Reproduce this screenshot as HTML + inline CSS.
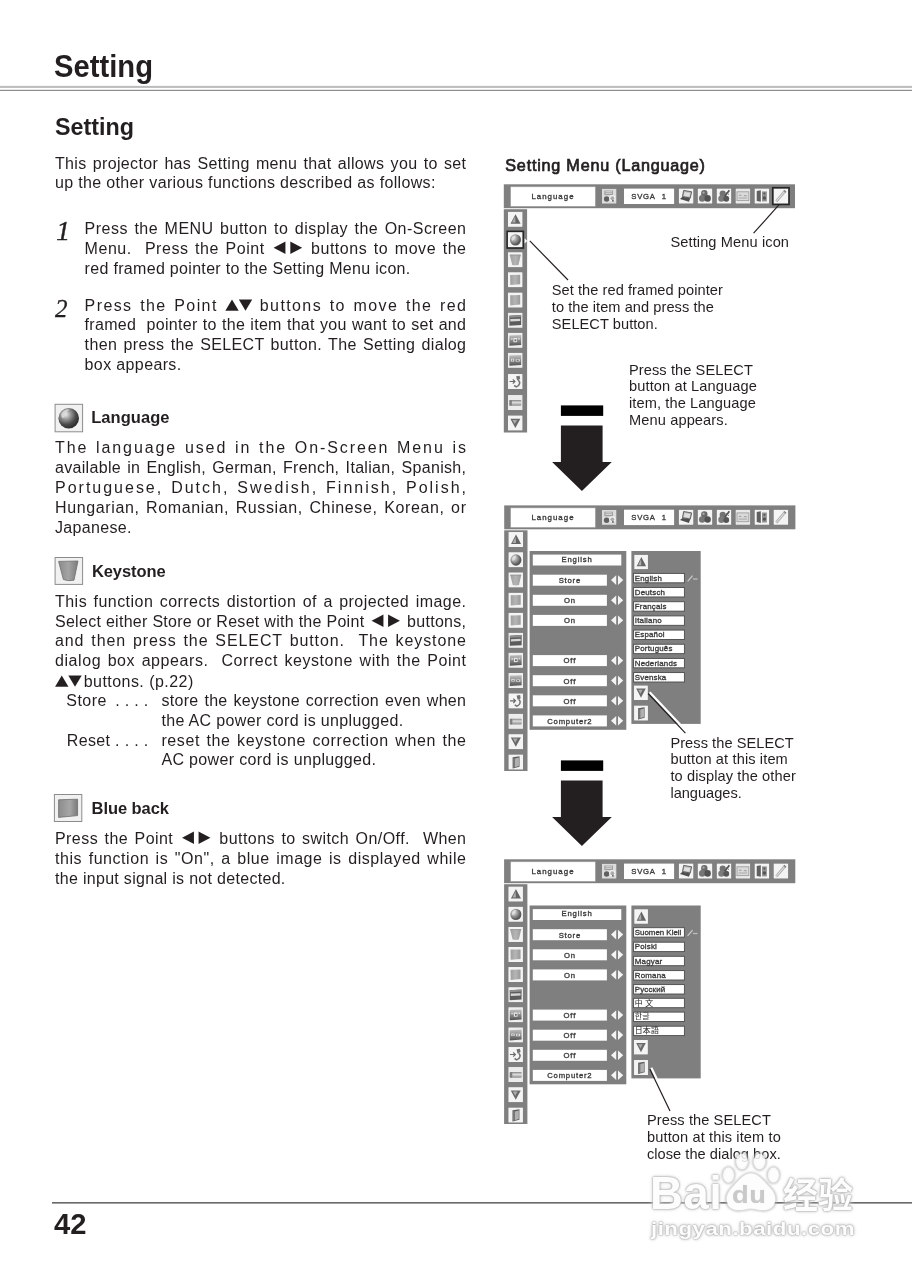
<!DOCTYPE html>
<html lang="en"><head><meta charset="utf-8"><title>Setting</title>
<style>
html,body{margin:0;padding:0;background:#fff}
body{width:912px;height:1280px;position:relative;overflow:hidden;color:#231f20;font-family:"Liberation Sans",sans-serif}
.abs{position:absolute}
#page{position:absolute;left:0;top:0;width:912px;height:1280px;overflow:hidden;will-change:transform}

.s2{display:inline-block;width:2px}
.t{position:absolute;white-space:pre;margin:0;padding:0}
.j{text-align:justify;text-align-last:justify}
.tr,.tu{display:inline-block;font-family:"DejaVu Sans",sans-serif;line-height:16px;letter-spacing:0;font-weight:400;font-style:normal}
.tr{font-size:15.6px;margin:0 2.3px;transform:translateY(-2.2px) scale(1,1.05)}
.tu{font-size:17.6px;margin:0 -0.1px;transform:translateY(-0.9px) scale(1,0.83)}

</style></head><body>
<div id="page">

<svg class="abs" style="left:0;top:0" width="912" height="1280" viewBox="0 0 912 1280"><rect x="0" y="85.9" width="912" height="2" fill="#bcbcbc"/><rect x="0" y="89.8" width="912" height="1.2" fill="#8c8c8c"/><rect x="52" y="1202.2" width="860" height="1.3" fill="#454545"/></svg>
<div class="t" style="left:53.6px;top:47px;line-height:39px;height:39px;font-family:'Liberation Sans',sans-serif;font-size:30.8px;font-weight:700;transform:scaleX(0.9485);transform-origin:0 50%;">Setting</div>
<div class="t" style="left:55.3px;top:111px;line-height:31px;height:31px;font-family:'Liberation Sans',sans-serif;font-size:23.8px;font-weight:700;transform:scaleX(0.9797);transform-origin:0 50%;">Setting</div>
<div class="t j" style="left:55px;top:153px;line-height:21px;height:21px;font-family:'Liberation Sans',sans-serif;font-size:16px;letter-spacing:0.335px;width:411.33px;">This projector has Setting menu that allows you to set</div>
<div class="t" style="left:55px;top:172px;line-height:21px;height:21px;font-family:'Liberation Sans',sans-serif;font-size:16px;letter-spacing:0.344px;">up the other various functions described as follows:</div>
<div class="t" style="left:56.3px;top:213px;line-height:35px;height:35px;font-family:'Liberation Serif',serif;font-size:27.5px;font-style:italic;-webkit-text-stroke:0.4px #231f20;">1</div>
<div class="t j" style="left:84.6px;top:218px;line-height:21px;height:21px;font-family:'Liberation Sans',sans-serif;font-size:16px;letter-spacing:0.495px;width:381.89px;">Press the MENU button to display the On-Screen</div>
<div class="t j" style="left:84.6px;top:238px;line-height:21px;height:21px;font-family:'Liberation Sans',sans-serif;font-size:16px;letter-spacing:0.532px;width:381.93px;">Menu.  Press the Point <span class="tr">◀</span><span class="tr">▶</span> buttons to move the</div>
<div class="t" style="left:84.6px;top:258px;line-height:21px;height:21px;font-family:'Liberation Sans',sans-serif;font-size:16px;letter-spacing:0.314px;">red framed pointer to the Setting Menu icon.</div>
<div class="t" style="left:55px;top:293px;line-height:31px;height:31px;font-family:'Liberation Serif',serif;font-size:25px;font-style:italic;-webkit-text-stroke:0.3px #231f20;">2</div>
<div class="t j" style="left:84.6px;top:295px;line-height:21px;height:21px;font-family:'Liberation Sans',sans-serif;font-size:16px;letter-spacing:1.395px;width:382.79px;">Press the Point <span class="tu">▲</span><span class="tu">▼</span> buttons to move the red</div>
<div class="t j" style="left:84.6px;top:314px;line-height:21px;height:21px;font-family:'Liberation Sans',sans-serif;font-size:16px;letter-spacing:0.3px;width:381.7px;">framed  pointer to the item that you want to set and</div>
<div class="t j" style="left:84.6px;top:334px;line-height:21px;height:21px;font-family:'Liberation Sans',sans-serif;font-size:16px;letter-spacing:0.353px;width:381.75px;">then press the SELECT button. The Setting dialog</div>
<div class="t" style="left:84.6px;top:354px;line-height:21px;height:21px;font-family:'Liberation Sans',sans-serif;font-size:16px;letter-spacing:0.371px;">box appears.</div>
<div class="t" style="left:91.2px;top:406px;line-height:22px;height:22px;font-family:'Liberation Sans',sans-serif;font-size:16.5px;font-weight:700;letter-spacing:0.052px;">Language</div>
<div class="t j" style="left:55px;top:437px;line-height:21px;height:21px;font-family:'Liberation Sans',sans-serif;font-size:16px;letter-spacing:1.893px;width:412.89px;">The language used in the On-Screen Menu is</div>
<div class="t j" style="left:55px;top:457px;line-height:21px;height:21px;font-family:'Liberation Sans',sans-serif;font-size:16px;letter-spacing:0.313px;width:411.31px;">available in English, German, French, Italian, Spanish,</div>
<div class="t j" style="left:55px;top:477px;line-height:21px;height:21px;font-family:'Liberation Sans',sans-serif;font-size:16px;letter-spacing:1.993px;width:412.99px;">Portuguese, Dutch, Swedish, Finnish, Polish,</div>
<div class="t j" style="left:55px;top:497px;line-height:21px;height:21px;font-family:'Liberation Sans',sans-serif;font-size:16px;letter-spacing:0.624px;width:411.62px;">Hungarian, Romanian, Russian, Chinese, Korean, or</div>
<div class="t" style="left:55px;top:517px;line-height:21px;height:21px;font-family:'Liberation Sans',sans-serif;font-size:16px;letter-spacing:0.32px;">Japanese.</div>
<div class="t" style="left:91.9px;top:560px;line-height:22px;height:22px;font-family:'Liberation Sans',sans-serif;font-size:16.5px;font-weight:700;letter-spacing:-0.083px;">Keystone</div>
<div class="t j" style="left:55px;top:591px;line-height:21px;height:21px;font-family:'Liberation Sans',sans-serif;font-size:16px;letter-spacing:0.467px;width:411.47px;">This function corrects distortion of a projected image.</div>
<div class="t j" style="left:55px;top:611px;line-height:21px;height:21px;font-family:'Liberation Sans',sans-serif;font-size:16px;letter-spacing:0.277px;width:411.28px;">Select either Store or Reset with the Point <span class="tr">◀</span><span class="tr">▶</span> buttons,</div>
<div class="t j" style="left:55px;top:630px;line-height:21px;height:21px;font-family:'Liberation Sans',sans-serif;font-size:16px;letter-spacing:0.914px;width:411.91px;">and then press the SELECT button.  The keystone</div>
<div class="t j" style="left:55px;top:650px;line-height:21px;height:21px;font-family:'Liberation Sans',sans-serif;font-size:16px;letter-spacing:0.569px;width:411.57px;">dialog box appears.  Correct keystone with the Point</div>
<div class="t" style="left:55px;top:671px;line-height:21px;height:21px;font-family:'Liberation Sans',sans-serif;font-size:16px;letter-spacing:0.455px;"><span class="tu">▲</span><span class="tu">▼</span><span class="s2"></span>buttons. (p.22)</div>
<div class="t" style="left:66.3px;top:690px;line-height:21px;height:21px;font-family:'Liberation Sans',sans-serif;font-size:16px;letter-spacing:0.47px;">Store</div>
<div class="t" style="left:115.2px;top:690px;line-height:21px;height:21px;font-family:'Liberation Sans',sans-serif;font-size:16px;letter-spacing:0.312px;">. . . .</div>
<div class="t j" style="left:161.4px;top:690px;line-height:21px;height:21px;font-family:'Liberation Sans',sans-serif;font-size:16px;letter-spacing:0.3px;width:304.9px;">store the keystone correction even when</div>
<div class="t" style="left:161.4px;top:710px;line-height:21px;height:21px;font-family:'Liberation Sans',sans-serif;font-size:16px;letter-spacing:0.348px;">the AC power cord is unplugged.</div>
<div class="t" style="left:66.8px;top:730px;line-height:21px;height:21px;font-family:'Liberation Sans',sans-serif;font-size:16px;letter-spacing:0.337px;">Reset . . . .</div>
<div class="t j" style="left:161.4px;top:730px;line-height:21px;height:21px;font-family:'Liberation Sans',sans-serif;font-size:16px;letter-spacing:0.602px;width:305.2px;">reset the keystone correction when the</div>
<div class="t" style="left:161.4px;top:749px;line-height:21px;height:21px;font-family:'Liberation Sans',sans-serif;font-size:16px;letter-spacing:0.352px;">AC power cord is unplugged.</div>
<div class="t" style="left:91.6px;top:797px;line-height:22px;height:22px;font-family:'Liberation Sans',sans-serif;font-size:16.5px;font-weight:700;letter-spacing:-0.069px;">Blue back</div>
<div class="t j" style="left:55px;top:828px;line-height:21px;height:21px;font-family:'Liberation Sans',sans-serif;font-size:16px;letter-spacing:0.435px;width:411.44px;">Press the Point <span class="tr">◀</span><span class="tr">▶</span> buttons to switch On/Off.  When</div>
<div class="t j" style="left:55px;top:848px;line-height:21px;height:21px;font-family:'Liberation Sans',sans-serif;font-size:16px;letter-spacing:0.557px;width:411.56px;">this function is "On", a blue image is displayed while</div>
<div class="t" style="left:55px;top:868px;line-height:21px;height:21px;font-family:'Liberation Sans',sans-serif;font-size:16px;letter-spacing:0.303px;">the input signal is not detected.</div>
<div class="t" style="left:53.8px;top:1205px;line-height:37px;height:37px;font-family:'Liberation Sans',sans-serif;font-size:29.8px;font-weight:700;transform:scaleX(0.9802);transform-origin:0 50%;">42</div>
<div class="t" style="left:505.3px;top:154px;line-height:22px;height:22px;font-family:'Liberation Sans',sans-serif;font-size:16.2px;letter-spacing:0.773px;-webkit-text-stroke:0.7px #231f20;">Setting Menu (Language)</div>
<div class="t" style="left:670.4px;top:232px;line-height:20px;height:20px;font-family:'Liberation Sans',sans-serif;font-size:14.6px;letter-spacing:0.111px;">Setting Menu icon</div>
<div class="t" style="left:551.8px;top:280px;line-height:20px;height:20px;font-family:'Liberation Sans',sans-serif;font-size:14.6px;letter-spacing:0.058px;">Set the red framed pointer</div>
<div class="t" style="left:551.8px;top:297px;line-height:20px;height:20px;font-family:'Liberation Sans',sans-serif;font-size:14.6px;letter-spacing:0.057px;">to the item and press the</div>
<div class="t" style="left:551.8px;top:314px;line-height:20px;height:20px;font-family:'Liberation Sans',sans-serif;font-size:14.6px;letter-spacing:0.061px;">SELECT button.</div>
<div class="t" style="left:629px;top:360px;line-height:20px;height:20px;font-family:'Liberation Sans',sans-serif;font-size:14.6px;letter-spacing:0.088px;">Press the SELECT</div>
<div class="t" style="left:629px;top:376px;line-height:20px;height:20px;font-family:'Liberation Sans',sans-serif;font-size:14.6px;letter-spacing:0.118px;">button at Language</div>
<div class="t" style="left:629px;top:393px;line-height:20px;height:20px;font-family:'Liberation Sans',sans-serif;font-size:14.6px;letter-spacing:0.109px;">item, the Language</div>
<div class="t" style="left:629px;top:410px;line-height:20px;height:20px;font-family:'Liberation Sans',sans-serif;font-size:14.6px;letter-spacing:0.12px;">Menu appears.</div>
<div class="t" style="left:670.4px;top:733px;line-height:20px;height:20px;font-family:'Liberation Sans',sans-serif;font-size:14.6px;letter-spacing:0.061px;">Press the SELECT</div>
<div class="t" style="left:670.4px;top:749px;line-height:20px;height:20px;font-family:'Liberation Sans',sans-serif;font-size:14.6px;letter-spacing:0.122px;">button at this item</div>
<div class="t" style="left:670.4px;top:766px;line-height:20px;height:20px;font-family:'Liberation Sans',sans-serif;font-size:14.6px;letter-spacing:0.109px;">to display the other</div>
<div class="t" style="left:670.4px;top:783px;line-height:20px;height:20px;font-family:'Liberation Sans',sans-serif;font-size:14.6px;letter-spacing:-0.002px;">languages.</div>
<div class="t" style="left:647px;top:1110px;line-height:20px;height:20px;font-family:'Liberation Sans',sans-serif;font-size:14.6px;letter-spacing:0.088px;">Press the SELECT</div>
<div class="t" style="left:647px;top:1127px;line-height:20px;height:20px;font-family:'Liberation Sans',sans-serif;font-size:14.6px;letter-spacing:0.113px;">button at this item to</div>
<div class="t" style="left:647px;top:1144px;line-height:20px;height:20px;font-family:'Liberation Sans',sans-serif;font-size:14.6px;letter-spacing:0.037px;">close the dialog box.</div>
<style>
.b{position:absolute;overflow:visible}
.mt{position:absolute;white-space:nowrap;font-family:"Liberation Sans",sans-serif;box-sizing:border-box;overflow:visible;text-align:center;font-weight:400;color:#3a3a3a;-webkit-text-stroke:0.33px #3a3a3a}
</style>
<svg class="b" style="left:0;top:0" width="912" height="1280" viewBox="0 0 912 1280">
<defs>
<linearGradient id="gv" x1="0" y1="0" x2="0" y2="1"><stop offset="0" stop-color="#b4b4b4"/><stop offset="0.45" stop-color="#7a7a7a"/><stop offset="1" stop-color="#2c2c2c"/></linearGradient>
<linearGradient id="gh" x1="0" y1="0" x2="1" y2="0"><stop offset="0" stop-color="#8b8b8b"/><stop offset="0.5" stop-color="#a6a6a6"/><stop offset="1" stop-color="#858585"/></linearGradient>
<linearGradient id="gc" x1="0" y1="0" x2="0" y2="1"><stop offset="0" stop-color="#6c6c6c"/><stop offset="0.4" stop-color="#d8d8d8"/><stop offset="1" stop-color="#777"/></linearGradient>
<radialGradient id="gs" cx="0.34" cy="0.34" r="0.8"><stop offset="0" stop-color="#d9d9d9"/><stop offset="0.35" stop-color="#8f8f8f"/><stop offset="0.7" stop-color="#3d3d3d"/><stop offset="1" stop-color="#262626"/></radialGradient>
</defs>
<rect x="503.8" y="184.3" width="291.2" height="23.9" fill="#7f7f7f"/>
<rect x="510.7" y="186.8" width="84.6" height="19.5" fill="#fff" stroke="#a6a6a6" stroke-width="0.6"/>
<svg x="602" y="188.8" width="14.4" height="14.8" viewBox="0 0 15 15" preserveAspectRatio="none"><rect width="15" height="15" fill="#f6f6f6"/><g opacity="0.82"><rect width="15" height="15" fill="#d6d6d6"/><path d="M2.400 1.800H11.400V6.400H2.400Z" fill="#8a8a8a"/><path d="M3.600 3H10.400M3.600 4.600H10.400" stroke="#e6e6e6" stroke-width="0.8"/><circle cx="4.800" cy="10.400" r="2.800" fill="#3f3f3f"/><circle cx="10.800" cy="9.600" r="3.200" fill="#f0f0f0"/><circle cx="10.800" cy="9.600" r="2" fill="#9a9a9a"/><circle cx="11.400" cy="12.200" r="0.900" fill="#222"/></g></svg>
<rect x="624" y="188.6" width="50.1" height="15.4" fill="#fff"/>
<svg x="678.8" y="188.6" width="14.6" height="15" viewBox="0 0 15 15" preserveAspectRatio="none"><rect width="15" height="15" fill="#f6f6f6"/><g opacity="0.82"><rect width="15" height="15" fill="#f3f3f3"/><path d="M5 1.800L13.200 3.200L11.800 9.400L3.800 8Z" fill="#a5a5a5" stroke="#333" stroke-width="0.9"/><path d="M6 3.400L11.800 4.400L10.800 8.200L5 7.200Z" fill="#d9d9d9"/><path d="M1.200 10.400L3.800 8.200L11.800 9.600L10.400 13.200Z" fill="#2b2b2b"/></g></svg>
<svg x="697.7" y="188.6" width="14.6" height="15" viewBox="0 0 15 15" preserveAspectRatio="none"><rect width="15" height="15" fill="#f6f6f6"/><g opacity="0.82"><rect width="15" height="15" fill="#f3f3f3"/><circle cx="6.800" cy="4.800" r="3.300" fill="#4a4a4a"/><circle cx="4.600" cy="9.800" r="3.300" fill="#5a5a5a"/><circle cx="10.200" cy="9.800" r="3.300" fill="#2e2e2e"/><circle cx="6" cy="4" r="1.200" fill="#999"/></g></svg>
<svg x="716.7" y="188.6" width="14.6" height="15" viewBox="0 0 15 15" preserveAspectRatio="none"><rect width="15" height="15" fill="#f6f6f6"/><g opacity="0.82"><rect width="15" height="15" fill="#f3f3f3"/><circle cx="6.200" cy="5.200" r="3.200" fill="#555"/><circle cx="4.800" cy="10" r="3.200" fill="#5f5f5f"/><circle cx="9.800" cy="10.200" r="3" fill="#333"/><path d="M8.400 7.600L13 1.600" stroke="#2a2a2a" stroke-width="1.700"/><path d="M9.600 3.600L12.600 6" stroke="#555" stroke-width="1"/></g></svg>
<svg x="735.6" y="188.6" width="14.6" height="15" viewBox="0 0 15 15" preserveAspectRatio="none"><rect width="15" height="15" fill="#f6f6f6"/><g opacity="0.82"><rect width="15" height="15" fill="#e6e6e6"/><rect x="1.400" y="3.200" width="12.200" height="8.800" fill="#d4d4d4" stroke="#8a8a8a" stroke-width="0.9"/><path d="M3 7.200C4 5.600 5.400 5.600 6.400 7.200ZM8 7.600C9 6 11 6 12 7.600Z" fill="#8e8e8e"/><path d="M3 9.400H12" stroke="#a0a0a0" stroke-width="1.200"/></g></svg>
<svg x="754.6" y="188.6" width="14.6" height="15" viewBox="0 0 15 15" preserveAspectRatio="none"><rect width="15" height="15" fill="#f6f6f6"/><g opacity="0.82"><rect width="15" height="15" fill="#f3f3f3"/><path d="M2.200 2.400L6.400 1.600V13.200L2.200 12.400Z" fill="#3f3f3f"/><path d="M7.600 2.800H12.600V12.800H7.600Z" fill="#7b7b7b"/><circle cx="10.100" cy="9.400" r="1.700" fill="#2e2e2e"/><circle cx="10.100" cy="5" r="1" fill="#2e2e2e"/></g></svg>
<svg x="773.6" y="188.6" width="14.6" height="15" viewBox="0 0 15 15" preserveAspectRatio="none"><rect width="15" height="15" fill="#f6f6f6"/><g opacity="0.82"><rect width="15" height="15" fill="#f3f3f3"/><path d="M2.800 12.800L11.800 2.400" stroke="#a3a3a3" stroke-width="2.800"/><path d="M3 12.400L11.400 2.800" stroke="#e3e3e3" stroke-width="1"/><path d="M10.600 1.800L12.800 3.600" stroke="#6a6a6a" stroke-width="1.400"/></g></svg>
<rect x="772.7" y="187.7" width="16.4" height="16.8" fill="none" stroke="#262626" stroke-width="1.5"/>
<rect x="503.8" y="209.2" width="23.3" height="223.3" fill="#7f7f7f"/>
<svg x="508" y="211.8" width="14.5" height="15" viewBox="0 0 15 15" preserveAspectRatio="none"><rect width="15" height="15" fill="#f6f6f6"/><g opacity="0.82"><rect width="15" height="15" fill="#f3f3f3"/><path d="M7.8 2.4L13 12H2.6Z" fill="#444"/><path d="M7.4 4.6L7.8 10.8H4.2Z" fill="#9a9a9a"/></g></svg>
<svg x="508" y="232.2" width="14.5" height="15" viewBox="0 0 15 15" preserveAspectRatio="none"><rect width="15" height="15" fill="#f6f6f6"/><g opacity="0.82"><rect width="15" height="15" fill="#f3f3f3"/><circle cx="7.7" cy="7.7" r="5.7" fill="url(#gs)"/><path d="M4 5.600C5 3.600 7 3 8.400 3.400C7.400 4.400 7.800 5.600 6.600 6.400C6 7.600 5.200 8.800 4.200 8.400C3.600 7.600 3.600 6.400 4 5.600Z" fill="#e2e2e2" opacity="0.75"/></g></svg>
<rect x="507.1" y="231.3" width="16.3" height="16.8" fill="none" stroke="#262626" stroke-width="1.5"/>
<path d="M527.2 240.9l-2.6 -2.6v5.2z" fill="#fff"/>
<svg x="508" y="252.3" width="14.5" height="15" viewBox="0 0 15 15" preserveAspectRatio="none"><rect width="15" height="15" fill="#f6f6f6"/><g opacity="0.82"><rect width="15" height="15" fill="#f3f3f3"/><path d="M1.8 2.6H13.2L10.8 12.6Q7.5 13.4 4.4 12.600Z" fill="url(#gh)"/><path d="M1.8 2.6H13.2" stroke="#6f6f6f" stroke-width="0.7"/></g></svg>
<svg x="508" y="272.3" width="14.5" height="15" viewBox="0 0 15 15" preserveAspectRatio="none"><rect width="15" height="15" fill="#f6f6f6"/><g opacity="0.82"><rect width="15" height="15" fill="#f3f3f3"/><path d="M2.2 2.6L12.6 2.400V12L2.400 12.800Z" fill="url(#gh)"/></g></svg>
<svg x="508" y="292.6" width="14.5" height="15" viewBox="0 0 15 15" preserveAspectRatio="none"><rect width="15" height="15" fill="#f6f6f6"/><g opacity="0.82"><rect width="15" height="15" fill="#f3f3f3"/><path d="M2.2 2.6L12.6 2.400V12L2.400 12.800Z" fill="url(#gh)"/></g></svg>
<svg x="508" y="312.7" width="14.5" height="15" viewBox="0 0 15 15" preserveAspectRatio="none"><rect width="15" height="15" fill="#f6f6f6"/><g opacity="0.82"><rect width="15" height="15" fill="#ededed"/><path d="M1.4 3L13.6 2.200V12.400L1.400 13Z" fill="#3a3a3a"/><path d="M2.4 6.400L12.600 6V8.200L2.400 8.800Z" fill="#cfcfcf"/><path d="M1.4 3L13.6 2.200V4.400L1.400 5Z" fill="#777"/></g></svg>
<svg x="508" y="332.8" width="14.5" height="15" viewBox="0 0 15 15" preserveAspectRatio="none"><rect width="15" height="15" fill="#f6f6f6"/><g opacity="0.82"><rect width="15" height="15" fill="#ededed"/><path d="M1.4 2.8L13.6 2.200V12.200L1.400 13Z" fill="url(#gv)"/><path d="M5.600 5.200H9.400V9.400H5.600Z" fill="#f0f0f0" opacity="0.9"/><path d="M6.800 6.600H8.600V8.400H6.800Z" fill="#444"/><path d="M3 5.400H4.800V7H3ZM10.400 5H12.200V6.600H10.400Z" fill="#e0e0e0" opacity="0.8"/></g></svg>
<svg x="508" y="352.8" width="14.5" height="15" viewBox="0 0 15 15" preserveAspectRatio="none"><rect width="15" height="15" fill="#f6f6f6"/><g opacity="0.82"><rect width="15" height="15" fill="#ededed"/><path d="M1.4 2.8L13.6 2.200V12.200L1.400 13Z" fill="url(#gv)"/><path d="M3 6H6.400V8.600H3ZM8 6.400H12.200V8.800H8Z" fill="#ebebeb" opacity="0.9"/><path d="M4 6.800H5.400V8H4ZM9 7H11V8.200H9Z" fill="#555"/></g></svg>
<svg x="508" y="374.1" width="14.5" height="15" viewBox="0 0 15 15" preserveAspectRatio="none"><rect width="15" height="15" fill="#f6f6f6"/><g opacity="0.82"><rect width="15" height="15" fill="#f3f3f3"/><path d="M1.6 7.400H6.800M5 5.200L7.200 7.400L5 9.600" stroke="#4a4a4a" stroke-width="1.2" fill="none"/><path d="M8.400 2.200L12 1.600L12.600 5L9.400 6.400Z" fill="#555"/><path d="M10.600 6C13 8 12.400 11.600 8.600 12.800L6.400 11.400" stroke="#555" stroke-width="1.5" fill="none"/></g></svg>
<svg x="508" y="395.1" width="14.5" height="15" viewBox="0 0 15 15" preserveAspectRatio="none"><rect width="15" height="15" fill="#f6f6f6"/><g opacity="0.82"><rect width="15" height="15" fill="#e9e9e9"/><rect x="1.4" y="5" width="12.4" height="5.600" rx="1" fill="url(#gc)"/><rect x="1.4" y="5" width="2.600" height="5.600" rx="1" fill="#666"/></g></svg>
<svg x="508" y="415.5" width="14.5" height="15" viewBox="0 0 15 15" preserveAspectRatio="none"><rect width="15" height="15" fill="#f6f6f6"/><g opacity="0.82"><rect width="15" height="15" fill="#f3f3f3"/><path d="M7.6 12.6L12.8 3.2H2.4Z" fill="#4a4a4a"/><path d="M4.6 4.4H9.4L7 8.6Z" fill="#9a9a9a"/></g></svg>
<rect x="560.9" y="405.4" width="42.3" height="10.5" fill="#000"/>
<path d="M560.9 425.6h41.7v36.3h9.2l-29.9 29.2l-29.8 -29.2h8.8z" fill="#231f20"/>
<rect x="504.2" y="505.4" width="291.2" height="23.9" fill="#7f7f7f"/>
<rect x="510.7" y="507.9" width="84.6" height="19.5" fill="#fff" stroke="#a6a6a6" stroke-width="0.6"/>
<svg x="602" y="509.9" width="14.4" height="14.8" viewBox="0 0 15 15" preserveAspectRatio="none"><rect width="15" height="15" fill="#f6f6f6"/><g opacity="0.82"><rect width="15" height="15" fill="#d6d6d6"/><path d="M2.400 1.800H11.400V6.400H2.400Z" fill="#8a8a8a"/><path d="M3.600 3H10.400M3.600 4.600H10.400" stroke="#e6e6e6" stroke-width="0.8"/><circle cx="4.800" cy="10.400" r="2.800" fill="#3f3f3f"/><circle cx="10.800" cy="9.600" r="3.200" fill="#f0f0f0"/><circle cx="10.800" cy="9.600" r="2" fill="#9a9a9a"/><circle cx="11.400" cy="12.200" r="0.900" fill="#222"/></g></svg>
<rect x="624" y="509.7" width="50.1" height="15.4" fill="#fff"/>
<svg x="678.8" y="509.7" width="14.6" height="15" viewBox="0 0 15 15" preserveAspectRatio="none"><rect width="15" height="15" fill="#f6f6f6"/><g opacity="0.82"><rect width="15" height="15" fill="#f3f3f3"/><path d="M5 1.800L13.200 3.200L11.800 9.400L3.800 8Z" fill="#a5a5a5" stroke="#333" stroke-width="0.9"/><path d="M6 3.400L11.800 4.400L10.800 8.200L5 7.200Z" fill="#d9d9d9"/><path d="M1.200 10.400L3.800 8.200L11.800 9.600L10.400 13.200Z" fill="#2b2b2b"/></g></svg>
<svg x="697.7" y="509.7" width="14.6" height="15" viewBox="0 0 15 15" preserveAspectRatio="none"><rect width="15" height="15" fill="#f6f6f6"/><g opacity="0.82"><rect width="15" height="15" fill="#f3f3f3"/><circle cx="6.800" cy="4.800" r="3.300" fill="#4a4a4a"/><circle cx="4.600" cy="9.800" r="3.300" fill="#5a5a5a"/><circle cx="10.200" cy="9.800" r="3.300" fill="#2e2e2e"/><circle cx="6" cy="4" r="1.200" fill="#999"/></g></svg>
<svg x="716.7" y="509.7" width="14.6" height="15" viewBox="0 0 15 15" preserveAspectRatio="none"><rect width="15" height="15" fill="#f6f6f6"/><g opacity="0.82"><rect width="15" height="15" fill="#f3f3f3"/><circle cx="6.200" cy="5.200" r="3.200" fill="#555"/><circle cx="4.800" cy="10" r="3.200" fill="#5f5f5f"/><circle cx="9.800" cy="10.200" r="3" fill="#333"/><path d="M8.400 7.600L13 1.600" stroke="#2a2a2a" stroke-width="1.700"/><path d="M9.600 3.600L12.600 6" stroke="#555" stroke-width="1"/></g></svg>
<svg x="735.6" y="509.7" width="14.6" height="15" viewBox="0 0 15 15" preserveAspectRatio="none"><rect width="15" height="15" fill="#f6f6f6"/><g opacity="0.82"><rect width="15" height="15" fill="#e6e6e6"/><rect x="1.400" y="3.200" width="12.200" height="8.800" fill="#d4d4d4" stroke="#8a8a8a" stroke-width="0.9"/><path d="M3 7.200C4 5.600 5.400 5.600 6.400 7.200ZM8 7.600C9 6 11 6 12 7.600Z" fill="#8e8e8e"/><path d="M3 9.400H12" stroke="#a0a0a0" stroke-width="1.200"/></g></svg>
<svg x="754.6" y="509.7" width="14.6" height="15" viewBox="0 0 15 15" preserveAspectRatio="none"><rect width="15" height="15" fill="#f6f6f6"/><g opacity="0.82"><rect width="15" height="15" fill="#f3f3f3"/><path d="M2.200 2.400L6.400 1.600V13.200L2.200 12.400Z" fill="#3f3f3f"/><path d="M7.600 2.800H12.600V12.800H7.600Z" fill="#7b7b7b"/><circle cx="10.100" cy="9.400" r="1.700" fill="#2e2e2e"/><circle cx="10.100" cy="5" r="1" fill="#2e2e2e"/></g></svg>
<svg x="773.6" y="509.7" width="14.6" height="15" viewBox="0 0 15 15" preserveAspectRatio="none"><rect width="15" height="15" fill="#f6f6f6"/><g opacity="0.82"><rect width="15" height="15" fill="#f3f3f3"/><path d="M2.800 12.800L11.800 2.400" stroke="#a3a3a3" stroke-width="2.800"/><path d="M3 12.400L11.400 2.800" stroke="#e3e3e3" stroke-width="1"/><path d="M10.600 1.800L12.800 3.600" stroke="#6a6a6a" stroke-width="1.400"/></g></svg>
<rect x="504.2" y="530.3" width="23.3" height="240.7" fill="#7f7f7f"/>
<svg x="508.5" y="532.1" width="14.5" height="15" viewBox="0 0 15 15" preserveAspectRatio="none"><rect width="15" height="15" fill="#f6f6f6"/><g opacity="0.82"><rect width="15" height="15" fill="#f3f3f3"/><path d="M7.8 2.4L13 12H2.6Z" fill="#444"/><path d="M7.4 4.6L7.8 10.8H4.2Z" fill="#9a9a9a"/></g></svg>
<svg x="508.5" y="552.3" width="14.5" height="15" viewBox="0 0 15 15" preserveAspectRatio="none"><rect width="15" height="15" fill="#f6f6f6"/><g opacity="0.82"><rect width="15" height="15" fill="#f3f3f3"/><circle cx="7.7" cy="7.7" r="5.7" fill="url(#gs)"/><path d="M4 5.600C5 3.600 7 3 8.400 3.400C7.400 4.400 7.800 5.600 6.600 6.400C6 7.600 5.200 8.800 4.200 8.400C3.600 7.600 3.600 6.400 4 5.600Z" fill="#e2e2e2" opacity="0.75"/></g></svg>
<svg x="508.5" y="572.4" width="14.5" height="15" viewBox="0 0 15 15" preserveAspectRatio="none"><rect width="15" height="15" fill="#f6f6f6"/><g opacity="0.82"><rect width="15" height="15" fill="#f3f3f3"/><path d="M1.8 2.6H13.2L10.8 12.6Q7.5 13.4 4.4 12.600Z" fill="url(#gh)"/><path d="M1.8 2.6H13.2" stroke="#6f6f6f" stroke-width="0.7"/></g></svg>
<svg x="508.5" y="592.7" width="14.5" height="15" viewBox="0 0 15 15" preserveAspectRatio="none"><rect width="15" height="15" fill="#f6f6f6"/><g opacity="0.82"><rect width="15" height="15" fill="#f3f3f3"/><path d="M2.2 2.6L12.6 2.400V12L2.400 12.800Z" fill="url(#gh)"/></g></svg>
<svg x="508.5" y="612.8" width="14.5" height="15" viewBox="0 0 15 15" preserveAspectRatio="none"><rect width="15" height="15" fill="#f6f6f6"/><g opacity="0.82"><rect width="15" height="15" fill="#f3f3f3"/><path d="M2.2 2.6L12.6 2.400V12L2.400 12.800Z" fill="url(#gh)"/></g></svg>
<svg x="508.5" y="632.8" width="14.5" height="15" viewBox="0 0 15 15" preserveAspectRatio="none"><rect width="15" height="15" fill="#f6f6f6"/><g opacity="0.82"><rect width="15" height="15" fill="#ededed"/><path d="M1.4 3L13.6 2.200V12.400L1.400 13Z" fill="#3a3a3a"/><path d="M2.4 6.400L12.600 6V8.200L2.400 8.800Z" fill="#cfcfcf"/><path d="M1.4 3L13.6 2.200V4.400L1.400 5Z" fill="#777"/></g></svg>
<svg x="508.5" y="652.7" width="14.5" height="15" viewBox="0 0 15 15" preserveAspectRatio="none"><rect width="15" height="15" fill="#f6f6f6"/><g opacity="0.82"><rect width="15" height="15" fill="#ededed"/><path d="M1.4 2.8L13.6 2.200V12.200L1.400 13Z" fill="url(#gv)"/><path d="M5.600 5.200H9.400V9.400H5.600Z" fill="#f0f0f0" opacity="0.9"/><path d="M6.800 6.600H8.600V8.400H6.800Z" fill="#444"/><path d="M3 5.400H4.800V7H3ZM10.400 5H12.200V6.600H10.400Z" fill="#e0e0e0" opacity="0.8"/></g></svg>
<svg x="508.5" y="673" width="14.5" height="15" viewBox="0 0 15 15" preserveAspectRatio="none"><rect width="15" height="15" fill="#f6f6f6"/><g opacity="0.82"><rect width="15" height="15" fill="#ededed"/><path d="M1.4 2.8L13.6 2.200V12.200L1.400 13Z" fill="url(#gv)"/><path d="M3 6H6.400V8.600H3ZM8 6.400H12.200V8.800H8Z" fill="#ebebeb" opacity="0.9"/><path d="M4 6.800H5.400V8H4ZM9 7H11V8.200H9Z" fill="#555"/></g></svg>
<svg x="508.5" y="693.4" width="14.5" height="15" viewBox="0 0 15 15" preserveAspectRatio="none"><rect width="15" height="15" fill="#f6f6f6"/><g opacity="0.82"><rect width="15" height="15" fill="#f3f3f3"/><path d="M1.6 7.400H6.800M5 5.200L7.200 7.400L5 9.600" stroke="#4a4a4a" stroke-width="1.2" fill="none"/><path d="M8.400 2.200L12 1.600L12.600 5L9.400 6.400Z" fill="#555"/><path d="M10.600 6C13 8 12.400 11.600 8.600 12.800L6.400 11.400" stroke="#555" stroke-width="1.5" fill="none"/></g></svg>
<svg x="508.5" y="713.8" width="14.5" height="15" viewBox="0 0 15 15" preserveAspectRatio="none"><rect width="15" height="15" fill="#f6f6f6"/><g opacity="0.82"><rect width="15" height="15" fill="#e9e9e9"/><rect x="1.4" y="5" width="12.4" height="5.600" rx="1" fill="url(#gc)"/><rect x="1.4" y="5" width="2.600" height="5.600" rx="1" fill="#666"/></g></svg>
<svg x="508.5" y="734.2" width="14.5" height="15" viewBox="0 0 15 15" preserveAspectRatio="none"><rect width="15" height="15" fill="#f6f6f6"/><g opacity="0.82"><rect width="15" height="15" fill="#f3f3f3"/><path d="M7.6 12.6L12.8 3.2H2.4Z" fill="#4a4a4a"/><path d="M4.6 4.4H9.4L7 8.6Z" fill="#9a9a9a"/></g></svg>
<svg x="508.5" y="754.6" width="14.5" height="15" viewBox="0 0 15 15" preserveAspectRatio="none"><rect width="15" height="15" fill="#f6f6f6"/><g opacity="0.82"><rect width="15" height="15" fill="#f3f3f3"/><path d="M4.4 2.6L11.4 1.6V12.2L4.4 14Z" fill="#3a3a3a"/><path d="M6.6 3.8L10.8 3V11.4L6.6 12.6Z" fill="#a0a0a0"/><path d="M4.4 2.6L6.6 3.8V12.6L4.4 14Z" fill="#5c5c5c"/></g></svg>
<rect x="529.6" y="551" width="96.7" height="178.8" fill="#7f7f7f"/>
<rect x="532.8" y="554.6" width="88.5" height="10.9" fill="#fff"/>
<rect x="532.8" y="574.7" width="74.1" height="11" fill="#fff"/>
<path d="M616.2 575.3v9.6l-5.2 -4.8zM618 575.3v9.6l5.2 -4.8z" fill="#f4f4f4"/>
<rect x="532.8" y="594.8" width="74.1" height="11" fill="#fff"/>
<path d="M616.2 595.4v9.6l-5.2 -4.8zM618 595.4v9.6l5.2 -4.8z" fill="#f4f4f4"/>
<rect x="532.8" y="614.9" width="74.1" height="11" fill="#fff"/>
<path d="M616.2 615.5v9.6l-5.2 -4.8zM618 615.5v9.6l5.2 -4.8z" fill="#f4f4f4"/>
<rect x="532.8" y="655.1" width="74.1" height="11" fill="#fff"/>
<path d="M616.2 655.7v9.6l-5.2 -4.8zM618 655.7v9.6l5.2 -4.8z" fill="#f4f4f4"/>
<rect x="532.8" y="675.2" width="74.1" height="11" fill="#fff"/>
<path d="M616.2 675.8v9.6l-5.2 -4.8zM618 675.8v9.6l5.2 -4.8z" fill="#f4f4f4"/>
<rect x="532.8" y="695.3" width="74.1" height="11" fill="#fff"/>
<path d="M616.2 695.9v9.6l-5.2 -4.8zM618 695.9v9.6l5.2 -4.8z" fill="#f4f4f4"/>
<rect x="532.8" y="715.4" width="74.1" height="11" fill="#fff"/>
<path d="M616.2 716v9.6l-5.2 -4.8zM618 716v9.6l5.2 -4.8z" fill="#f4f4f4"/>
<rect x="631.4" y="551" width="69.3" height="172.9" fill="#7f7f7f"/>
<svg x="634.3" y="554.8" width="13.6" height="14.4" viewBox="0 0 15 15" preserveAspectRatio="none"><rect width="15" height="15" fill="#f6f6f6"/><g opacity="0.82"><rect width="15" height="15" fill="#f3f3f3"/><path d="M7.8 2.4L13 12H2.6Z" fill="#444"/><path d="M7.4 4.6L7.8 10.8H4.2Z" fill="#9a9a9a"/></g></svg>
<rect x="633.6" y="573.4" width="50.8" height="9.4" fill="#fff" stroke="#4a4a4a" stroke-width="0.9"/>
<rect x="633.6" y="587.57" width="50.8" height="9.4" fill="#fff" stroke="#4a4a4a" stroke-width="0.9"/>
<rect x="633.6" y="601.74" width="50.8" height="9.4" fill="#fff" stroke="#4a4a4a" stroke-width="0.9"/>
<rect x="633.6" y="615.91" width="50.8" height="9.4" fill="#fff" stroke="#4a4a4a" stroke-width="0.9"/>
<rect x="633.6" y="630.08" width="50.8" height="9.4" fill="#fff" stroke="#4a4a4a" stroke-width="0.9"/>
<rect x="633.6" y="644.25" width="50.8" height="9.4" fill="#fff" stroke="#4a4a4a" stroke-width="0.9"/>
<rect x="633.6" y="658.42" width="50.8" height="9.4" fill="#fff" stroke="#4a4a4a" stroke-width="0.9"/>
<rect x="633.6" y="672.59" width="50.8" height="9.4" fill="#fff" stroke="#4a4a4a" stroke-width="0.9"/>
<path d="M687.6 581.4l5 -5.8" stroke="#c9c9c9" stroke-width="1.3" fill="none"/><path d="M693 579h4.6" stroke="#bdbdbd" stroke-width="1.3" fill="none"/>
<svg x="634" y="685.5" width="13.8" height="14.5" viewBox="0 0 15 15" preserveAspectRatio="none"><rect width="15" height="15" fill="#f6f6f6"/><g opacity="0.82"><rect width="15" height="15" fill="#f3f3f3"/><path d="M7.6 12.6L12.8 3.2H2.4Z" fill="#4a4a4a"/><path d="M4.6 4.4H9.4L7 8.6Z" fill="#9a9a9a"/></g></svg>
<svg x="634.1" y="705.6" width="13.8" height="15" viewBox="0 0 15 15" preserveAspectRatio="none"><rect width="15" height="15" fill="#f6f6f6"/><g opacity="0.82"><rect width="15" height="15" fill="#f3f3f3"/><path d="M4.4 2.6L11.4 1.6V12.2L4.4 14Z" fill="#3a3a3a"/><path d="M6.6 3.8L10.8 3V11.4L6.6 12.6Z" fill="#a0a0a0"/><path d="M4.4 2.6L6.6 3.8V12.6L4.4 14Z" fill="#5c5c5c"/></g></svg>
<rect x="560.9" y="760.4" width="42.3" height="10.5" fill="#000"/>
<path d="M560.9 780.6h41.7v36.3h9.2l-29.9 29.2l-29.8 -29.2h8.8z" fill="#231f20"/>
<rect x="504.1" y="859.3" width="291.2" height="23.9" fill="#7f7f7f"/>
<rect x="510.7" y="861.8" width="84.6" height="19.5" fill="#fff" stroke="#a6a6a6" stroke-width="0.6"/>
<svg x="602" y="863.8" width="14.4" height="14.8" viewBox="0 0 15 15" preserveAspectRatio="none"><rect width="15" height="15" fill="#f6f6f6"/><g opacity="0.82"><rect width="15" height="15" fill="#d6d6d6"/><path d="M2.400 1.800H11.400V6.400H2.400Z" fill="#8a8a8a"/><path d="M3.600 3H10.400M3.600 4.600H10.400" stroke="#e6e6e6" stroke-width="0.8"/><circle cx="4.800" cy="10.400" r="2.800" fill="#3f3f3f"/><circle cx="10.800" cy="9.600" r="3.200" fill="#f0f0f0"/><circle cx="10.800" cy="9.600" r="2" fill="#9a9a9a"/><circle cx="11.400" cy="12.200" r="0.900" fill="#222"/></g></svg>
<rect x="624" y="863.6" width="50.1" height="15.4" fill="#fff"/>
<svg x="678.8" y="863.6" width="14.6" height="15" viewBox="0 0 15 15" preserveAspectRatio="none"><rect width="15" height="15" fill="#f6f6f6"/><g opacity="0.82"><rect width="15" height="15" fill="#f3f3f3"/><path d="M5 1.800L13.200 3.200L11.800 9.400L3.800 8Z" fill="#a5a5a5" stroke="#333" stroke-width="0.9"/><path d="M6 3.400L11.800 4.400L10.800 8.200L5 7.200Z" fill="#d9d9d9"/><path d="M1.200 10.400L3.800 8.200L11.800 9.600L10.400 13.200Z" fill="#2b2b2b"/></g></svg>
<svg x="697.7" y="863.6" width="14.6" height="15" viewBox="0 0 15 15" preserveAspectRatio="none"><rect width="15" height="15" fill="#f6f6f6"/><g opacity="0.82"><rect width="15" height="15" fill="#f3f3f3"/><circle cx="6.800" cy="4.800" r="3.300" fill="#4a4a4a"/><circle cx="4.600" cy="9.800" r="3.300" fill="#5a5a5a"/><circle cx="10.200" cy="9.800" r="3.300" fill="#2e2e2e"/><circle cx="6" cy="4" r="1.200" fill="#999"/></g></svg>
<svg x="716.7" y="863.6" width="14.6" height="15" viewBox="0 0 15 15" preserveAspectRatio="none"><rect width="15" height="15" fill="#f6f6f6"/><g opacity="0.82"><rect width="15" height="15" fill="#f3f3f3"/><circle cx="6.200" cy="5.200" r="3.200" fill="#555"/><circle cx="4.800" cy="10" r="3.200" fill="#5f5f5f"/><circle cx="9.800" cy="10.200" r="3" fill="#333"/><path d="M8.400 7.600L13 1.600" stroke="#2a2a2a" stroke-width="1.700"/><path d="M9.600 3.600L12.600 6" stroke="#555" stroke-width="1"/></g></svg>
<svg x="735.6" y="863.6" width="14.6" height="15" viewBox="0 0 15 15" preserveAspectRatio="none"><rect width="15" height="15" fill="#f6f6f6"/><g opacity="0.82"><rect width="15" height="15" fill="#e6e6e6"/><rect x="1.400" y="3.200" width="12.200" height="8.800" fill="#d4d4d4" stroke="#8a8a8a" stroke-width="0.9"/><path d="M3 7.200C4 5.600 5.400 5.600 6.400 7.200ZM8 7.600C9 6 11 6 12 7.600Z" fill="#8e8e8e"/><path d="M3 9.400H12" stroke="#a0a0a0" stroke-width="1.200"/></g></svg>
<svg x="754.6" y="863.6" width="14.6" height="15" viewBox="0 0 15 15" preserveAspectRatio="none"><rect width="15" height="15" fill="#f6f6f6"/><g opacity="0.82"><rect width="15" height="15" fill="#f3f3f3"/><path d="M2.200 2.400L6.400 1.600V13.200L2.200 12.400Z" fill="#3f3f3f"/><path d="M7.600 2.800H12.600V12.800H7.600Z" fill="#7b7b7b"/><circle cx="10.100" cy="9.400" r="1.700" fill="#2e2e2e"/><circle cx="10.100" cy="5" r="1" fill="#2e2e2e"/></g></svg>
<svg x="773.6" y="863.6" width="14.6" height="15" viewBox="0 0 15 15" preserveAspectRatio="none"><rect width="15" height="15" fill="#f6f6f6"/><g opacity="0.82"><rect width="15" height="15" fill="#f3f3f3"/><path d="M2.800 12.800L11.800 2.400" stroke="#a3a3a3" stroke-width="2.800"/><path d="M3 12.400L11.400 2.800" stroke="#e3e3e3" stroke-width="1"/><path d="M10.600 1.800L12.800 3.600" stroke="#6a6a6a" stroke-width="1.400"/></g></svg>
<rect x="504.1" y="884.2" width="23.3" height="239.8" fill="#7f7f7f"/>
<svg x="508.4" y="886.6" width="14.5" height="15" viewBox="0 0 15 15" preserveAspectRatio="none"><rect width="15" height="15" fill="#f6f6f6"/><g opacity="0.82"><rect width="15" height="15" fill="#f3f3f3"/><path d="M7.8 2.4L13 12H2.6Z" fill="#444"/><path d="M7.4 4.6L7.8 10.8H4.2Z" fill="#9a9a9a"/></g></svg>
<svg x="508.4" y="906.7" width="14.5" height="15" viewBox="0 0 15 15" preserveAspectRatio="none"><rect width="15" height="15" fill="#f6f6f6"/><g opacity="0.82"><rect width="15" height="15" fill="#f3f3f3"/><circle cx="7.7" cy="7.7" r="5.7" fill="url(#gs)"/><path d="M4 5.600C5 3.600 7 3 8.400 3.400C7.400 4.400 7.800 5.600 6.600 6.400C6 7.600 5.200 8.800 4.200 8.400C3.600 7.600 3.600 6.400 4 5.600Z" fill="#e2e2e2" opacity="0.75"/></g></svg>
<svg x="508.4" y="926.9" width="14.5" height="15" viewBox="0 0 15 15" preserveAspectRatio="none"><rect width="15" height="15" fill="#f6f6f6"/><g opacity="0.82"><rect width="15" height="15" fill="#f3f3f3"/><path d="M1.8 2.6H13.2L10.8 12.6Q7.5 13.4 4.4 12.600Z" fill="url(#gh)"/><path d="M1.8 2.6H13.2" stroke="#6f6f6f" stroke-width="0.7"/></g></svg>
<svg x="508.4" y="947" width="14.5" height="15" viewBox="0 0 15 15" preserveAspectRatio="none"><rect width="15" height="15" fill="#f6f6f6"/><g opacity="0.82"><rect width="15" height="15" fill="#f3f3f3"/><path d="M2.2 2.6L12.6 2.400V12L2.400 12.800Z" fill="url(#gh)"/></g></svg>
<svg x="508.4" y="967.1" width="14.5" height="15" viewBox="0 0 15 15" preserveAspectRatio="none"><rect width="15" height="15" fill="#f6f6f6"/><g opacity="0.82"><rect width="15" height="15" fill="#f3f3f3"/><path d="M2.2 2.6L12.6 2.400V12L2.400 12.800Z" fill="url(#gh)"/></g></svg>
<svg x="508.4" y="987.2" width="14.5" height="15" viewBox="0 0 15 15" preserveAspectRatio="none"><rect width="15" height="15" fill="#f6f6f6"/><g opacity="0.82"><rect width="15" height="15" fill="#ededed"/><path d="M1.4 3L13.6 2.200V12.400L1.400 13Z" fill="#3a3a3a"/><path d="M2.4 6.400L12.600 6V8.200L2.400 8.800Z" fill="#cfcfcf"/><path d="M1.4 3L13.6 2.200V4.400L1.400 5Z" fill="#777"/></g></svg>
<svg x="508.4" y="1007.3" width="14.5" height="15" viewBox="0 0 15 15" preserveAspectRatio="none"><rect width="15" height="15" fill="#f6f6f6"/><g opacity="0.82"><rect width="15" height="15" fill="#ededed"/><path d="M1.4 2.8L13.6 2.200V12.200L1.400 13Z" fill="url(#gv)"/><path d="M5.600 5.200H9.400V9.400H5.600Z" fill="#f0f0f0" opacity="0.9"/><path d="M6.800 6.600H8.600V8.400H6.800Z" fill="#444"/><path d="M3 5.400H4.800V7H3ZM10.400 5H12.200V6.600H10.400Z" fill="#e0e0e0" opacity="0.8"/></g></svg>
<svg x="508.4" y="1027.4" width="14.5" height="15" viewBox="0 0 15 15" preserveAspectRatio="none"><rect width="15" height="15" fill="#f6f6f6"/><g opacity="0.82"><rect width="15" height="15" fill="#ededed"/><path d="M1.4 2.8L13.6 2.200V12.200L1.400 13Z" fill="url(#gv)"/><path d="M3 6H6.400V8.600H3ZM8 6.400H12.200V8.800H8Z" fill="#ebebeb" opacity="0.9"/><path d="M4 6.800H5.400V8H4ZM9 7H11V8.200H9Z" fill="#555"/></g></svg>
<svg x="508.4" y="1047.1" width="14.5" height="15" viewBox="0 0 15 15" preserveAspectRatio="none"><rect width="15" height="15" fill="#f6f6f6"/><g opacity="0.82"><rect width="15" height="15" fill="#f3f3f3"/><path d="M1.6 7.400H6.800M5 5.200L7.200 7.400L5 9.600" stroke="#4a4a4a" stroke-width="1.2" fill="none"/><path d="M8.400 2.200L12 1.600L12.600 5L9.400 6.400Z" fill="#555"/><path d="M10.600 6C13 8 12.400 11.600 8.600 12.800L6.400 11.400" stroke="#555" stroke-width="1.5" fill="none"/></g></svg>
<svg x="508.4" y="1067.1" width="14.5" height="15" viewBox="0 0 15 15" preserveAspectRatio="none"><rect width="15" height="15" fill="#f6f6f6"/><g opacity="0.82"><rect width="15" height="15" fill="#e9e9e9"/><rect x="1.4" y="5" width="12.4" height="5.600" rx="1" fill="url(#gc)"/><rect x="1.4" y="5" width="2.600" height="5.600" rx="1" fill="#666"/></g></svg>
<svg x="508.4" y="1087.2" width="14.5" height="15" viewBox="0 0 15 15" preserveAspectRatio="none"><rect width="15" height="15" fill="#f6f6f6"/><g opacity="0.82"><rect width="15" height="15" fill="#f3f3f3"/><path d="M7.6 12.6L12.8 3.2H2.4Z" fill="#4a4a4a"/><path d="M4.6 4.4H9.4L7 8.6Z" fill="#9a9a9a"/></g></svg>
<svg x="508.4" y="1107.6" width="14.5" height="15" viewBox="0 0 15 15" preserveAspectRatio="none"><rect width="15" height="15" fill="#f6f6f6"/><g opacity="0.82"><rect width="15" height="15" fill="#f3f3f3"/><path d="M4.4 2.6L11.4 1.6V12.2L4.4 14Z" fill="#3a3a3a"/><path d="M6.6 3.8L10.8 3V11.4L6.6 12.6Z" fill="#a0a0a0"/><path d="M4.4 2.6L6.6 3.8V12.6L4.4 14Z" fill="#5c5c5c"/></g></svg>
<rect x="529.6" y="905.5" width="96.7" height="178.8" fill="#7f7f7f"/>
<rect x="532.8" y="909.1" width="88.5" height="10.9" fill="#fff"/>
<rect x="532.8" y="929.2" width="74.1" height="11" fill="#fff"/>
<path d="M616.2 929.8v9.6l-5.2 -4.8zM618 929.8v9.6l5.2 -4.8z" fill="#f4f4f4"/>
<rect x="532.8" y="949.3" width="74.1" height="11" fill="#fff"/>
<path d="M616.2 949.9v9.6l-5.2 -4.8zM618 949.9v9.6l5.2 -4.8z" fill="#f4f4f4"/>
<rect x="532.8" y="969.4" width="74.1" height="11" fill="#fff"/>
<path d="M616.2 970v9.6l-5.2 -4.8zM618 970v9.6l5.2 -4.8z" fill="#f4f4f4"/>
<rect x="532.8" y="1009.6" width="74.1" height="11" fill="#fff"/>
<path d="M616.2 1010.2v9.6l-5.2 -4.8zM618 1010.2v9.6l5.2 -4.8z" fill="#f4f4f4"/>
<rect x="532.8" y="1029.7" width="74.1" height="11" fill="#fff"/>
<path d="M616.2 1030.3v9.6l-5.2 -4.8zM618 1030.3v9.6l5.2 -4.8z" fill="#f4f4f4"/>
<rect x="532.8" y="1049.8" width="74.1" height="11" fill="#fff"/>
<path d="M616.2 1050.4v9.6l-5.2 -4.8zM618 1050.4v9.6l5.2 -4.8z" fill="#f4f4f4"/>
<rect x="532.8" y="1069.9" width="74.1" height="11" fill="#fff"/>
<path d="M616.2 1070.5v9.6l-5.2 -4.8zM618 1070.5v9.6l5.2 -4.8z" fill="#f4f4f4"/>
<rect x="631.4" y="905.5" width="69.3" height="172.9" fill="#7f7f7f"/>
<svg x="634.3" y="909.3" width="13.6" height="14.4" viewBox="0 0 15 15" preserveAspectRatio="none"><rect width="15" height="15" fill="#f6f6f6"/><g opacity="0.82"><rect width="15" height="15" fill="#f3f3f3"/><path d="M7.8 2.4L13 12H2.6Z" fill="#444"/><path d="M7.4 4.6L7.8 10.8H4.2Z" fill="#9a9a9a"/></g></svg>
<rect x="633.6" y="927.7" width="50.8" height="9.4" fill="#fff" stroke="#4a4a4a" stroke-width="0.9"/>
<rect x="633.6" y="942.2" width="50.8" height="9.4" fill="#fff" stroke="#4a4a4a" stroke-width="0.9"/>
<rect x="633.6" y="956.3" width="50.8" height="9.4" fill="#fff" stroke="#4a4a4a" stroke-width="0.9"/>
<rect x="633.6" y="970.6" width="50.8" height="9.4" fill="#fff" stroke="#4a4a4a" stroke-width="0.9"/>
<rect x="633.6" y="984.6" width="50.8" height="9.4" fill="#fff" stroke="#4a4a4a" stroke-width="0.9"/>
<rect x="633.6" y="998.3" width="50.8" height="9.4" fill="#fff" stroke="#4a4a4a" stroke-width="0.9"/>
<rect x="633.6" y="1012.1" width="50.8" height="9.4" fill="#fff" stroke="#4a4a4a" stroke-width="0.9"/>
<rect x="633.6" y="1026.2" width="50.8" height="9.4" fill="#fff" stroke="#4a4a4a" stroke-width="0.9"/>
<path d="M687.6 935.9l5 -5.8" stroke="#c9c9c9" stroke-width="1.3" fill="none"/><path d="M693 933.5h4.6" stroke="#bdbdbd" stroke-width="1.3" fill="none"/>
<svg x="634" y="1040" width="13.8" height="14.5" viewBox="0 0 15 15" preserveAspectRatio="none"><rect width="15" height="15" fill="#f6f6f6"/><g opacity="0.82"><rect width="15" height="15" fill="#f3f3f3"/><path d="M7.6 12.6L12.8 3.2H2.4Z" fill="#4a4a4a"/><path d="M4.6 4.4H9.4L7 8.6Z" fill="#9a9a9a"/></g></svg>
<svg x="634.1" y="1060.1" width="13.8" height="15" viewBox="0 0 15 15" preserveAspectRatio="none"><rect width="15" height="15" fill="#f6f6f6"/><g opacity="0.82"><rect width="15" height="15" fill="#f3f3f3"/><path d="M4.4 2.6L11.4 1.6V12.2L4.4 14Z" fill="#3a3a3a"/><path d="M6.6 3.8L10.8 3V11.4L6.6 12.6Z" fill="#a0a0a0"/><path d="M4.4 2.6L6.6 3.8V12.6L4.4 14Z" fill="#5c5c5c"/></g></svg>
<path d="M779.1 204.6L753.6 233.2" stroke="#231f20" stroke-width="1.2" fill="none"/>
<path d="M529.8 240.9L568 280" stroke="#231f20" stroke-width="1.2" fill="none"/>
<path d="M648.1 693.5L685.4 733.1" stroke="#fff" stroke-width="2.3" fill="none" transform="translate(1.5 -1.3)"/>
<path d="M648.1 693.5L685.4 733.1" stroke="#231f20" stroke-width="1.2" fill="none"/>
<path d="M649.8 1069L670 1111" stroke="#fff" stroke-width="2.3" fill="none" transform="translate(1.5 -1.3)"/>
<path d="M649.8 1069L670 1111" stroke="#231f20" stroke-width="1.2" fill="none"/>
</svg>
<div class="mt" style="left:510.7px;top:187px;width:84.6px;height:19.6px;line-height:19.6px;font-size:7.9px;letter-spacing:1px;">Language</div>
<div class="mt" style="left:624px;top:188.7px;width:50px;height:15.4px;line-height:15.4px;font-size:7.7px;letter-spacing:0.8px;">SVGA&nbsp;&nbsp;1</div>
<div class="mt" style="left:510.7px;top:508.1px;width:84.6px;height:19.6px;line-height:19.6px;font-size:7.9px;letter-spacing:1px;">Language</div>
<div class="mt" style="left:624px;top:509.8px;width:50px;height:15.4px;line-height:15.4px;font-size:7.7px;letter-spacing:0.8px;">SVGA&nbsp;&nbsp;1</div>
<div class="mt" style="left:532.8px;top:554.9px;width:88.5px;height:10.8px;line-height:10.8px;font-size:7.7px;letter-spacing:0.85px;">English</div>
<div class="mt" style="left:532.8px;top:575px;width:74.1px;height:11px;line-height:11px;font-size:7.7px;letter-spacing:0.8px;">Store</div>
<div class="mt" style="left:532.8px;top:595.1px;width:74.1px;height:11px;line-height:11px;font-size:7.7px;letter-spacing:0.8px;">On</div>
<div class="mt" style="left:532.8px;top:615.2px;width:74.1px;height:11px;line-height:11px;font-size:7.7px;letter-spacing:0.8px;">On</div>
<div class="mt" style="left:532.8px;top:655.4px;width:74.1px;height:11px;line-height:11px;font-size:7.7px;letter-spacing:0.8px;">Off</div>
<div class="mt" style="left:532.8px;top:675.5px;width:74.1px;height:11px;line-height:11px;font-size:7.7px;letter-spacing:0.8px;">Off</div>
<div class="mt" style="left:532.8px;top:695.6px;width:74.1px;height:11px;line-height:11px;font-size:7.7px;letter-spacing:0.8px;">Off</div>
<div class="mt" style="left:532.8px;top:715.7px;width:74.1px;height:11px;line-height:11px;font-size:7.7px;letter-spacing:0.8px;">Computer2</div>
<div class="mt" style="left:633.6px;top:573.6px;width:50.8px;height:9.4px;line-height:9.4px;font-size:7.9px;letter-spacing:0.2px;text-align:left;padding-left:1.2px;">English</div>
<div class="mt" style="left:633.6px;top:587.77px;width:50.8px;height:9.4px;line-height:9.4px;font-size:7.9px;letter-spacing:0.2px;text-align:left;padding-left:1.2px;">Deutsch</div>
<div class="mt" style="left:633.6px;top:601.94px;width:50.8px;height:9.4px;line-height:9.4px;font-size:7.9px;letter-spacing:0.2px;text-align:left;padding-left:1.2px;">Français</div>
<div class="mt" style="left:633.6px;top:616.11px;width:50.8px;height:9.4px;line-height:9.4px;font-size:7.9px;letter-spacing:0.2px;text-align:left;padding-left:1.2px;">Italiano</div>
<div class="mt" style="left:633.6px;top:630.28px;width:50.8px;height:9.4px;line-height:9.4px;font-size:7.9px;letter-spacing:0.2px;text-align:left;padding-left:1.2px;">Español</div>
<div class="mt" style="left:633.6px;top:644.45px;width:50.8px;height:9.4px;line-height:9.4px;font-size:7.9px;letter-spacing:0.2px;text-align:left;padding-left:1.2px;">Português</div>
<div class="mt" style="left:633.6px;top:658.62px;width:50.8px;height:9.4px;line-height:9.4px;font-size:7.9px;letter-spacing:0.2px;text-align:left;padding-left:1.2px;">Nederlands</div>
<div class="mt" style="left:633.6px;top:672.79px;width:50.8px;height:9.4px;line-height:9.4px;font-size:7.9px;letter-spacing:0.2px;text-align:left;padding-left:1.2px;">Svenska</div>
<div class="mt" style="left:510.7px;top:862px;width:84.6px;height:19.6px;line-height:19.6px;font-size:7.9px;letter-spacing:1px;">Language</div>
<div class="mt" style="left:624px;top:863.7px;width:50px;height:15.4px;line-height:15.4px;font-size:7.7px;letter-spacing:0.8px;">SVGA&nbsp;&nbsp;1</div>
<div class="mt" style="left:532.8px;top:909.4px;width:88.5px;height:10.8px;line-height:10.8px;font-size:7.7px;letter-spacing:0.85px;">English</div>
<div class="mt" style="left:532.8px;top:929.5px;width:74.1px;height:11px;line-height:11px;font-size:7.7px;letter-spacing:0.8px;">Store</div>
<div class="mt" style="left:532.8px;top:949.6px;width:74.1px;height:11px;line-height:11px;font-size:7.7px;letter-spacing:0.8px;">On</div>
<div class="mt" style="left:532.8px;top:969.7px;width:74.1px;height:11px;line-height:11px;font-size:7.7px;letter-spacing:0.8px;">On</div>
<div class="mt" style="left:532.8px;top:1009.9px;width:74.1px;height:11px;line-height:11px;font-size:7.7px;letter-spacing:0.8px;">Off</div>
<div class="mt" style="left:532.8px;top:1030px;width:74.1px;height:11px;line-height:11px;font-size:7.7px;letter-spacing:0.8px;">Off</div>
<div class="mt" style="left:532.8px;top:1050.1px;width:74.1px;height:11px;line-height:11px;font-size:7.7px;letter-spacing:0.8px;">Off</div>
<div class="mt" style="left:532.8px;top:1070.2px;width:74.1px;height:11px;line-height:11px;font-size:7.7px;letter-spacing:0.8px;">Computer2</div>
<div class="mt" style="left:633.6px;top:927.9px;width:50.8px;height:9.4px;line-height:9.4px;font-size:7.9px;letter-spacing:0px;text-align:left;padding-left:1.2px;">Suomen Kieli</div>
<div class="mt" style="left:633.6px;top:942.4px;width:50.8px;height:9.4px;line-height:9.4px;font-size:7.9px;letter-spacing:0.2px;text-align:left;padding-left:1.2px;">Polski</div>
<div class="mt" style="left:633.6px;top:956.5px;width:50.8px;height:9.4px;line-height:9.4px;font-size:7.9px;letter-spacing:0.2px;text-align:left;padding-left:1.2px;">Magyar</div>
<div class="mt" style="left:633.6px;top:970.8px;width:50.8px;height:9.4px;line-height:9.4px;font-size:7.9px;letter-spacing:0.2px;text-align:left;padding-left:1.2px;">Romana</div>
<div class="mt" style="left:633.6px;top:984.8px;width:50.8px;height:9.4px;line-height:9.4px;font-size:7.9px;letter-spacing:0.2px;text-align:left;padding-left:1.2px;">Русский</div>
<div class="mt" style="left:633.6px;top:998.5px;width:50.8px;height:9.4px;line-height:9.4px;font-size:7.9px;letter-spacing:0.2px;text-align:left;padding-left:1.2px;font-family:'Liberation Sans','Noto Sans CJK SC',sans-serif;-webkit-text-stroke:0.1px #3a3a3a;">中 文</div>
<div class="mt" style="left:633.6px;top:1012.3px;width:50.8px;height:9.4px;line-height:9.4px;font-size:7.9px;letter-spacing:0.2px;text-align:left;padding-left:1.2px;font-family:'Liberation Sans','Noto Sans CJK KR',sans-serif;-webkit-text-stroke:0.1px #3a3a3a;">한글</div>
<div class="mt" style="left:633.6px;top:1026.4px;width:50.8px;height:9.4px;line-height:9.4px;font-size:7.9px;letter-spacing:0.2px;text-align:left;padding-left:1.2px;font-family:'Liberation Sans','Noto Sans CJK JP',sans-serif;-webkit-text-stroke:0.1px #3a3a3a;">日本語</div>
<svg class="b" style="left:54px;top:403px" width="30" height="30" viewBox="54 403 30 30">
<defs>
<radialGradient id="gl" cx="0.36" cy="0.32" r="0.75"><stop offset="0" stop-color="#ececec"/><stop offset="0.3" stop-color="#9c9c9c"/><stop offset="0.65" stop-color="#4a4a4a"/><stop offset="1" stop-color="#242424"/></radialGradient>
</defs>
<rect x="55.1" y="404.3" width="27.5" height="27.5" fill="#f1f1f1" stroke="#8c8c8c" stroke-width="1"/>
<circle cx="68.7" cy="418.2" r="10.3" fill="url(#gl)"/>
<path d="M61.5 413.5c2-3 5-4.5 8-4.2c-1 1.5-2.2 1.6-2.8 3.2c1.4 1 .6 2.6-.8 3.2c-1.6.6-1.6 2.6-3.4 2.4c-1.2-1.2-1.6-3-1-4.600Z" fill="#dcdcdc" opacity="0.8"/>
</svg>
<svg class="b" style="left:54px;top:556px" width="30" height="30" viewBox="54 556 30 30">
<defs><linearGradient id="kg" x1="0" y1="0" x2="1" y2="0"><stop offset="0" stop-color="#8a8a8a"/><stop offset="0.5" stop-color="#a4a4a4"/><stop offset="1" stop-color="#7c7c7c"/></linearGradient></defs>
<rect x="55.1" y="557.5" width="27.5" height="26.9" fill="#f1f1f1" stroke="#8c8c8c" stroke-width="1"/>
<path d="M58.6 561.4L78 561L74 580.2Q68 581.4 63.4 579.600Z" fill="url(#kg)" stroke="#6e6e6e" stroke-width="0.8"/>
</svg>
<svg class="b" style="left:53px;top:793px" width="30" height="30" viewBox="53 793 30 30">
<defs><linearGradient id="bg" x1="0" y1="0" x2="1" y2="0"><stop offset="0" stop-color="#8c8c8c"/><stop offset="0.6" stop-color="#a6a6a6"/><stop offset="1" stop-color="#7a7a7a"/></linearGradient></defs>
<rect x="54.4" y="794.5" width="27.4" height="27" fill="#f1f1f1" stroke="#8c8c8c" stroke-width="1"/>
<path d="M58.6 799.8L77.6 799.2V815.600L58.6 817.4Z" fill="url(#bg)" stroke="#6e6e6e" stroke-width="0.8"/>
</svg>

<style>
.wm{position:absolute;white-space:nowrap;font-family:"Liberation Sans","Noto Sans CJK SC",sans-serif;font-weight:700;color:#fdfdfd;
text-shadow:0 0 1.5px #a8a8a8,0 0 1.5px #a8a8a8,0 0 3px #c4c4c4,0 0 5px #e0e0e0}
</style>
<svg class="b" style="left:716px;top:1149px" width="70" height="68" viewBox="716 1148 70 68">
<defs><filter id="wg" x="-20%" y="-20%" width="140%" height="140%"><feGaussianBlur stdDeviation="0.9"/></filter></defs>
<g fill="none" stroke="#b4b4b4" stroke-width="1.6" filter="url(#wg)">
<ellipse cx="728.5" cy="1174" rx="6" ry="8"/>
<ellipse cx="742" cy="1160.5" rx="6.4" ry="8.4"/>
<ellipse cx="759.5" cy="1160.5" rx="6.4" ry="8.4"/>
<ellipse cx="773.5" cy="1174" rx="6" ry="8"/>
<path d="M751 1172C743 1172 738 1180 731 1187C724 1194 724 1206 734 1209C741 1211 746 1208 751 1208C756 1208 761 1211 768 1209C778 1206 778 1194 771 1187C764 1180 759 1172 751 1172Z"/>
</g>
<g fill="#fdfdfd" fill-opacity="0.86">
<ellipse cx="728.5" cy="1174" rx="5.4" ry="7.4"/>
<ellipse cx="742" cy="1160.5" rx="5.8" ry="7.8"/>
<ellipse cx="759.5" cy="1160.5" rx="5.8" ry="7.8"/>
<ellipse cx="773.5" cy="1174" rx="5.4" ry="7.4"/>
<path fill-opacity="1" d="M751 1172.600C743.400 1172.600 738.400 1180.400 731.400 1187.400C724.800 1194 724.800 1205.600 734.200 1208.400C741 1210.400 746 1207.400 751 1207.400C756 1207.400 761 1210.400 767.800 1208.400C777.200 1205.600 777.200 1194 770.600 1187.400C763.600 1180.400 758.600 1172.600 751 1172.600Z"/>
</g>
</svg>
<div class="wm" style="left:650px;top:1167px;font-size:46px;line-height:52px;letter-spacing:0.5px;transform:scaleX(0.99);transform-origin:0 50%">Bai</div>
<div class="wm" style="left:731.5px;top:1181px;font-size:23.5px;line-height:28px;color:#c9c9c9;text-shadow:0 0 1px #dcdcdc;letter-spacing:0.5px;transform:scaleX(1.16);transform-origin:0 50%">du</div>
<div class="wm" style="left:783px;top:1172.5px;font-size:35px;line-height:46px;letter-spacing:0px">经验</div>
<div class="wm" style="left:650.5px;top:1214.5px;font-size:19px;line-height:28px;letter-spacing:0.4px;transform:scaleX(1.175);transform-origin:0 50%">jingyan.baidu.com</div>

</div>
</body></html>
